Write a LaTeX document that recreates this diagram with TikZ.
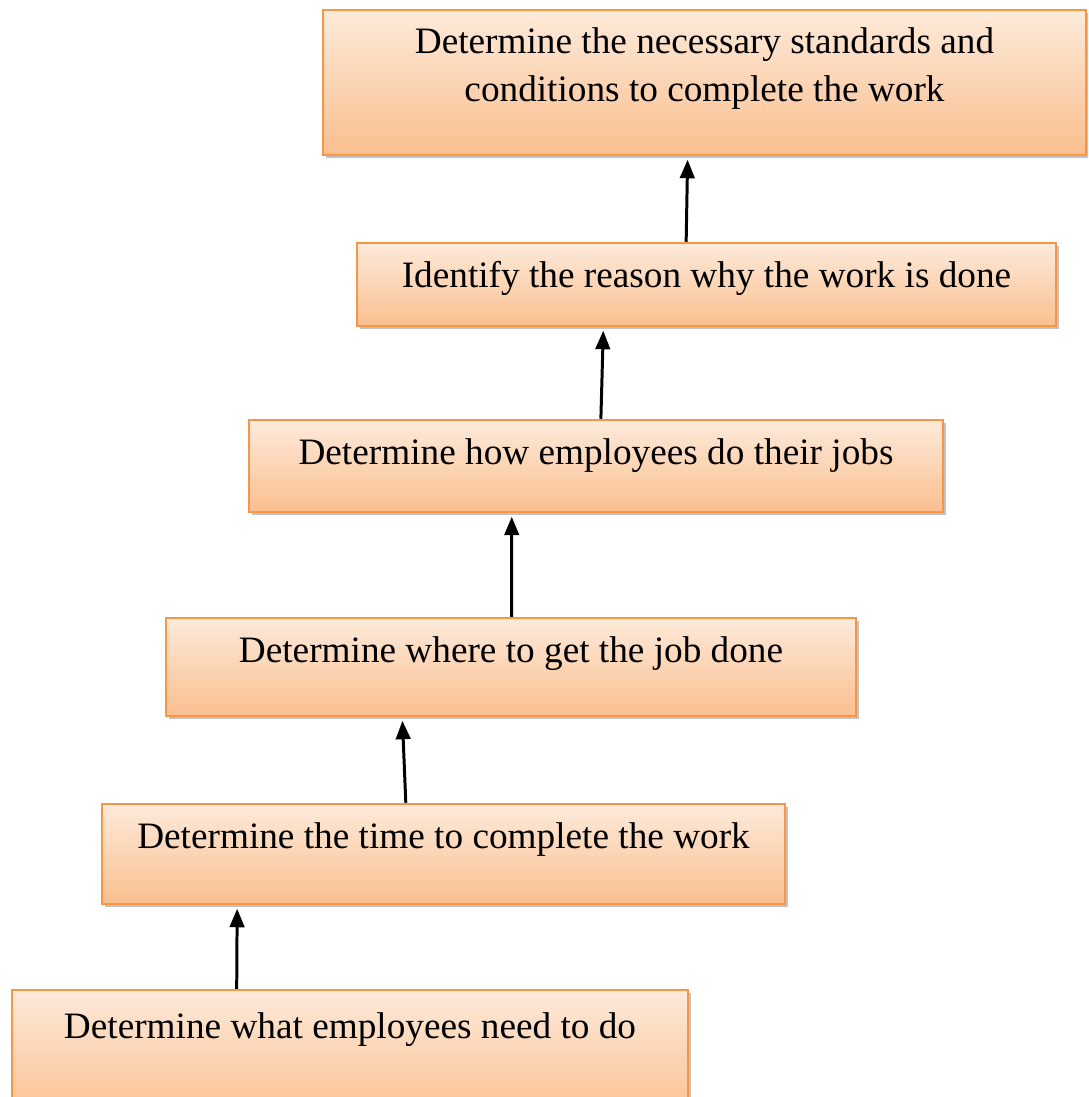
\documentclass[tikz,border=0pt]{standalone}
\usepackage{fontspec}
\setmainfont{Liberation Serif}
\usetikzlibrary{arrows.meta}
\usetikzlibrary{positioning}
\usetikzlibrary{calc}
\usetikzlibrary{shadows}
\definecolor{boxline}{RGB}{247,150,70}
\definecolor{boxtop}{RGB}{253,234,218}
\definecolor{boxbottom}{RGB}{250,191,143}

\begin{document}
\begin{tikzpicture}[
        stepbox/.style={rectangle, draw=boxline, line width=1.4pt, top color=boxtop, bottom color=boxbottom, inner sep=0pt,
            drop shadow={shadow xshift=0.05cm, shadow yshift=-0.07cm, opacity=0.4, fill=black!60}},
        steptext/.style={inner sep=0pt, align=center, font=\fontsize{21.2}{27.2}\selectfont},
        uparrow/.style={-{Triangle[width=0.29cm, length=0.37cm]}, line width=1.7pt, shorten >=2pt}]
        \clip (0,0) rectangle (21.76,21.94);
        \node[stepbox, minimum width=15.26cm, minimum height=2.90cm](b1) at (14.09,20.29){};
        \node[stepbox, minimum width=13.98cm, minimum height=1.66cm](b2) at (14.13,16.25){};
        \node[stepbox, minimum width=13.88cm, minimum height=1.84cm](b3) at (11.92,12.62){};
        \node[stepbox, minimum width=13.80cm, minimum height=1.96cm](b4) at (10.22,8.60){};
        \node[stepbox, minimum width=13.66cm, minimum height=2.00cm](b5) at (8.87,4.86){};
        \node[stepbox, minimum width=13.52cm, minimum height=2.60cm](b6) at (7.00,0.84){};
        \node[steptext, below = 0.38cm of b1.north](t1){Determine the necessary standards and\\conditions to complete the work};
        \node[steptext, below = 0.39cm of b2.north](t2){Identify the reason why the work is done};
        \node[steptext, below = 0.39cm of b3.north](t3){Determine how employees do their jobs};
        \node[steptext, below = 0.39cm of b4.north](t4){Determine where to get the job done};
        \node[steptext, below = 0.39cm of b5.north](t5){Determine the time to complete the work};
        \node[steptext, below = 0.47cm of b6.north](t6){Determine what employees need to do};
        \draw[uparrow] ($(b2.north west)!0.471!(b2.north east)$) -- ($(b1.south west)!0.478!(b1.south east)$);
        \draw[uparrow] ($(b3.north west)!0.507!(b3.north east)$) -- ($(b2.south west)!0.353!(b2.south east)$);
        \draw[uparrow] ($(b4.north west)!0.501!(b4.north east)$) -- ($(b3.south west)!0.379!(b3.south east)$);
        \draw[uparrow] ($(b5.north west)!0.445!(b5.north east)$) -- ($(b4.south west)!0.343!(b4.south east)$);
        \draw[uparrow] ($(b6.north west)!0.333!(b6.north east)$) -- ($(b5.south west)!0.199!(b5.south east)$);
    \end{tikzpicture}
\end{document}
